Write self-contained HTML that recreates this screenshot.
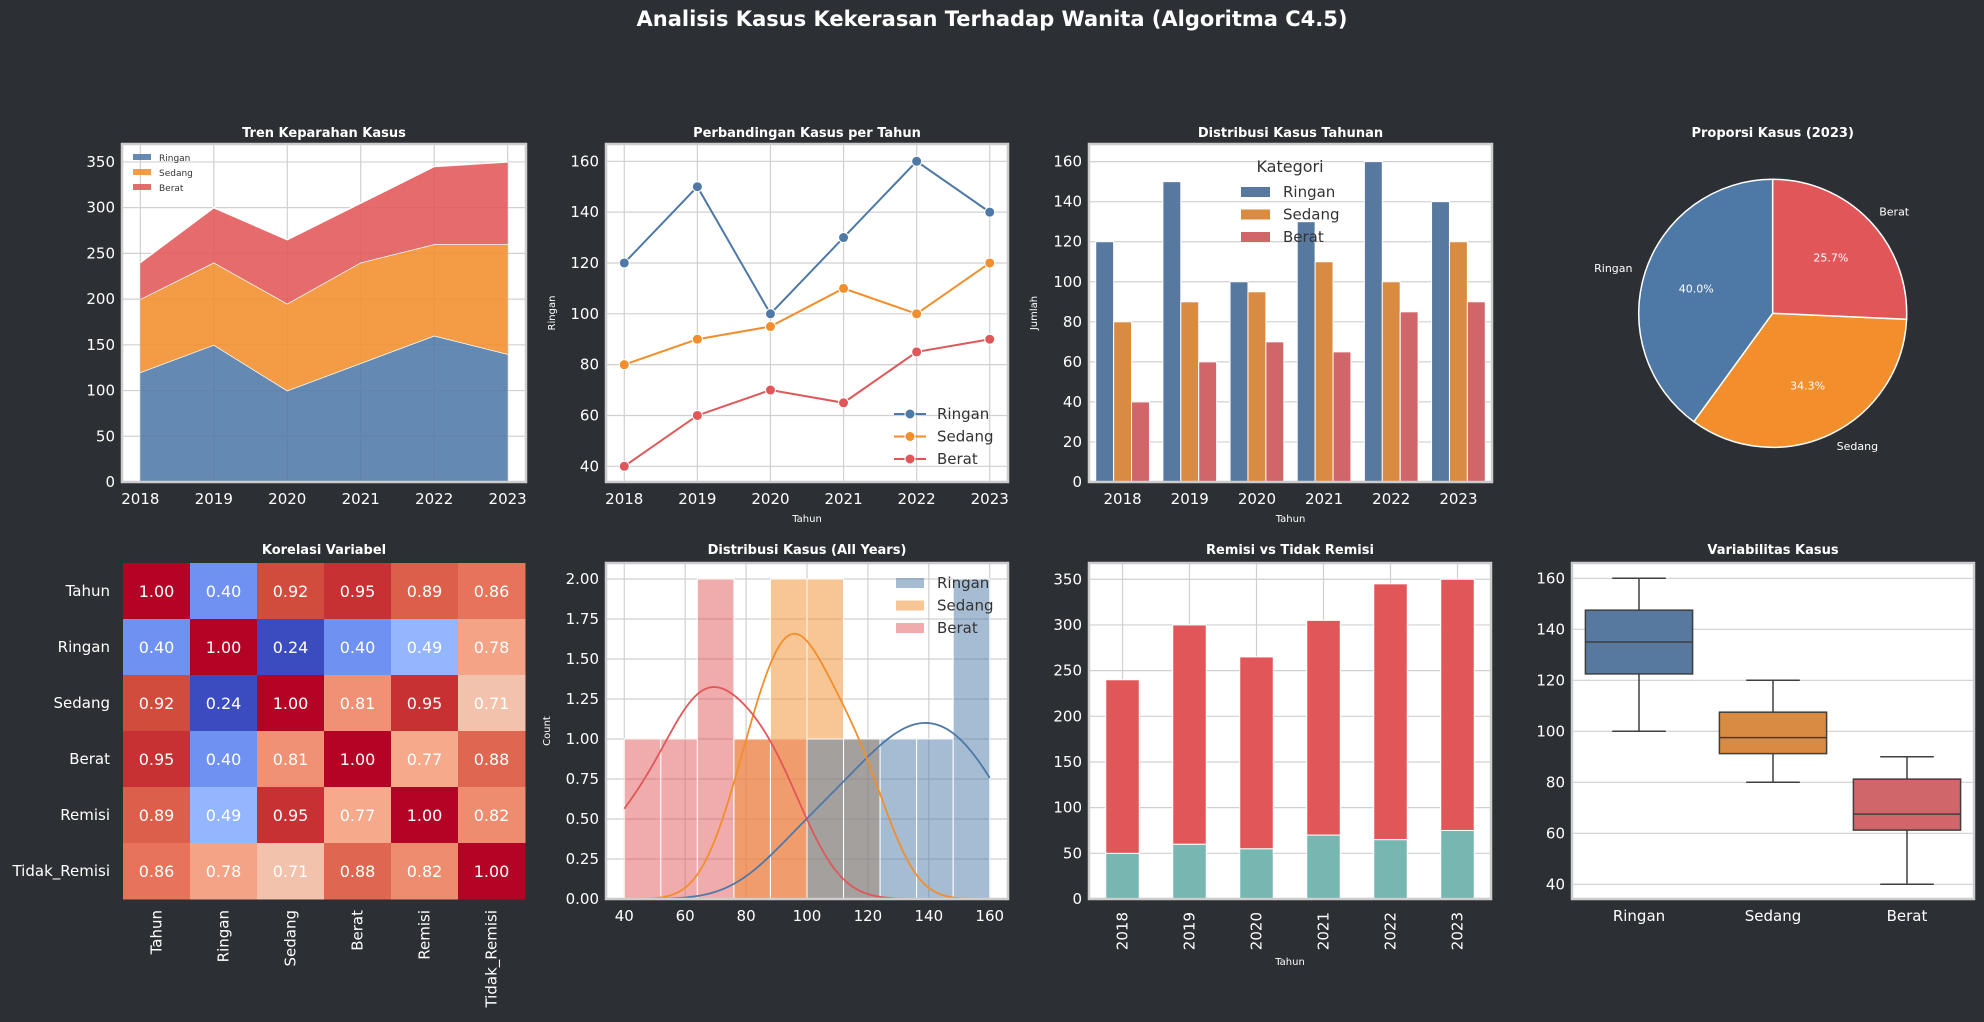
<!DOCTYPE html>
<html><head><meta charset="utf-8">
<style>
html,body{margin:0;padding:0;background:#2c2f33;}
svg{display:block;font-family:"DejaVu Sans","Liberation Sans",sans-serif;}
</style></head>
<body>
<svg id="fig" width="1984" height="1022" viewBox="0 0 1984 1022" xmlns="http://www.w3.org/2000/svg">
<rect width="1984" height="1022" fill="#2c2f33"/>
<text x="992" y="26" text-anchor="middle" fill="#fff" font-size="21" font-weight="bold">Analisis Kasus Kekerasan Terhadap Wanita (Algoritma C4.5)</text>
</svg>
<script>
const years = [2018, 2019, 2020, 2021, 2022, 2023];
const ringan = [120, 150, 100, 130, 160, 140];
const sedang = [80, 90, 95, 110, 100, 120];
const berat = [40, 60, 70, 65, 85, 90];
const remisi = [50, 60, 55, 70, 65, 75];
const tidakRemisi = [190, 240, 210, 235, 280, 275];
const corrLabels = ["Tahun", "Ringan", "Sedang", "Berat", "Remisi", "Tidak_Remisi"];
const corrValues = [
  [1.00, 0.40, 0.92, 0.95, 0.89, 0.86],
  [0.40, 1.00, 0.24, 0.40, 0.49, 0.78],
  [0.92, 0.24, 1.00, 0.81, 0.95, 0.71],
  [0.95, 0.40, 0.81, 1.00, 0.77, 0.88],
  [0.89, 0.49, 0.95, 0.77, 1.00, 0.82],
  [0.86, 0.78, 0.71, 0.88, 0.82, 1.00]
];
const catNames = ["Ringan", "Sedang", "Berat"];
const tick350 = [0, 50, 100, 150, 200, 250, 300, 350];
const tick160a = [40, 60, 80, 100, 120, 140, 160];
const tick160b = [0, 20, 40, 60, 80, 100, 120, 140, 160];
const histYTicks = [0, 0.25, 0.5, 0.75, 1, 1.25, 1.5, 1.75, 2];
const histXTicks = [40, 60, 80, 100, 120, 140, 160];

const svg = document.getElementById('fig');
const NS = 'http://www.w3.org/2000/svg';
function el(tag, attrs, parent, text) {
  const e = document.createElementNS(NS, tag);
  for (const k in attrs) e.setAttribute(k, attrs[k]);
  if (text !== undefined) e.textContent = text;
  (parent || svg).appendChild(e);
  return e;
}
const C = {blue:'#4e79a7', orange:'#f28e2b', red:'#e15759', teal:'#76b7b2',
  bBlue:'#57789f', bOrange:'#da8b42', bRed:'#d0666a', grid:'#d0d0d0', frame:'#cccccc'};
const TXT = '#ffffff';

function lin(d0, d1, r0, r1) { return v => r0 + (v - d0) * (r1 - r0) / (d1 - d0); }

function axesBox(name, x0, y0, x1, y1) {
  const g = el('g', {}, svg);
  
  
  const bg = el('rect', {x:x0, y:y0, width:x1-x0, height:y1-y0, fill:'#fff'}, g);
  
  
  return g;
}
function frame(g, x0, y0, x1, y1) {
  el('rect', {x:x0, y:y0, width:x1-x0, height:y1-y0, fill:'none', stroke:C.frame, 'stroke-width':2.5}, g);
}
function title(text, cx, y, name) {
  const t = el('text', {x:cx, y:y, 'text-anchor':'middle', fill:TXT, 'font-size':13, 'font-weight':'bold'}, svg, text);
  
  
}
function yTicks(g, ticks, sy, x0, x1, fmt, grid) {
  ticks.forEach(v => {
    const y = sy(v);
    if (grid) el('line', {x1:x0, x2:x1, y1:y, y2:y, stroke:C.grid, 'stroke-width':1.2}, g);
    const t = el('text', {x:x0-7, y:y+5, 'text-anchor':'end', fill:TXT, 'font-size':15}, svg, fmt ? fmt(v) : v);
    
    
  });
}
function xTicks(g, ticks, sx, y0, y1, grid, labels) {
  ticks.forEach((v, i) => {
    const x = sx(v, i);
    if (grid) el('line', {x1:x, x2:x, y1:y0, y2:y1, stroke:C.grid, 'stroke-width':1.2}, g);
    const t = el('text', {x:x, y:y1+22, 'text-anchor':'middle', fill:TXT, 'font-size':15}, svg, labels ? labels[i] : v);
    
    
  });
}
function axLabel(text, x, y, rot, name) {
  const t = el('text', {x:x, y:y, 'text-anchor':'middle', fill:TXT, 'font-size':10,
    transform: rot ? `rotate(-90 ${x} ${y})` : ''}, svg, text);
  
  
}

/* ---------- Panel 1: stacked area ---------- */
(function(){
  const x0=122,x1=526,y0=144,y1=482;
  const g = axesBox('area-chart', x0,y0,x1,y1);
  const sx = lin(2017.75, 2023.25, x0, x1);
  const sy = lin(0, 369.6, y1, y0);
  yTicks(g, tick350, sy, x0, x1, null, true);
  xTicks(g, years, sx, y0, y1, true);
  const layers = [ringan, sedang, berat], cols=[C.blue,C.orange,C.red];
  let base = years.map(()=>0);
  layers.forEach((L, li) => {
    const top = base.map((b,i)=>b+L[i]);
    let d = 'M' + years.map((yv,i)=>sx(yv)+','+sy(top[i])).join(' L');
    d += ' L' + years.slice().reverse().map((yv,j)=>{const i=years.length-1-j;return sx(yv)+','+sy(base[i]);}).join(' L') + 'Z';
    const p = el('path', {d:d, fill:cols[li], 'fill-opacity':0.88}, g);
    
    
    el('polyline', {points: years.map((yv,i)=>sx(yv)+','+sy(top[i])).join(' '), fill:'none', stroke:'#fff', 'stroke-width':1.5}, g);
    base = top;
  });
  frame(g,x0,y0,x1,y1);
  title('Tren Keparahan Kasus', (x0+x1)/2, 137, 'area-chart-title');
  catNames.forEach((n,i)=>{
    const y = 158 + i*15;
    const r = el('rect', {x:133, y:y-4, width:18, height:6, fill:cols[i], 'fill-opacity':0.88}, svg);
    
    
    const t = el('text', {x:159, y:y+3, fill:'#333', 'font-size':9}, svg, n);
    
    
  });
})();

/* ---------- Panel 2: line chart ---------- */
(function(){
  const x0=606,x1=1008,y0=144,y1=482;
  const g = axesBox('line-chart', x0,y0,x1,y1);
  const sx = lin(2017.75, 2023.25, x0, x1);
  const sy = lin(40, 160, 466.3, 161.3);
  yTicks(g, tick160a, sy, x0, x1, null, true);
  xTicks(g, years, sx, y0, y1, true);
  const series=[ringan,sedang,berat], cols=[C.blue,C.orange,C.red];
  series.forEach((s,si)=>{
    const pl = el('polyline', {points: years.map((yv,i)=>sx(yv)+','+sy(s[i])).join(' '), fill:'none', stroke:cols[si], 'stroke-width':2}, g);
    
    
    years.forEach((yv,i)=>{
      const c = el('circle', {cx:sx(yv), cy:sy(s[i]), r:5, fill:cols[si], stroke:'#fff', 'stroke-width':1}, g);
      
      
    });
  });
  frame(g,x0,y0,x1,y1);
  title('Perbandingan Kasus per Tahun', (x0+x1)/2, 137, 'line-chart-title');
  axLabel('Tahun', (x0+x1)/2, 522, false, 'line-x-axis-title');
  axLabel('Ringan', 555, 313, true, 'line-y-axis-title');
  catNames.forEach((n,i)=>{
    const y = 414 + i*22.5;
    el('line', {x1:894, x2:926, y1:y, y2:y, stroke:cols[i], 'stroke-width':2}, svg);
    el('circle', {cx:910, cy:y, r:5, fill:cols[i], stroke:'#fff', 'stroke-width':1}, svg);
    const t = el('text', {x:937, y:y+5, fill:'#333', 'font-size':15}, svg, n);
    
    
  });
})();

/* ---------- Panel 3: grouped bar ---------- */
(function(){
  const x0=1089,x1=1492,y0=144,y1=482;
  const g = axesBox('grouped-bar-chart', x0,y0,x1,y1);
  const step=(x1-x0)/years.length;
  const sy = lin(0, 168.8, y1, y0);
  yTicks(g, tick160b, sy, x0, x1, null, true);
  xTicks(g, years, (v,i)=>x0+step*(i+0.5), y0, y1, false);
  const series=[ringan,sedang,berat], cols=[C.bBlue,C.bOrange,C.bRed];
  const bw = step*0.8/3;
  series.forEach((s,si)=>{
    s.forEach((v,i)=>{
      const cx = x0+step*(i+0.5) + (si-1)*bw;
      const r = el('rect', {x:cx-bw/2, y:sy(v), width:bw, height:sy(0)-sy(v), fill:cols[si], stroke:'#fff', 'stroke-width':1}, g);
      
      
    });
  });
  frame(g,x0,y0,x1,y1);
  title('Distribusi Kasus Tahunan', (x0+x1)/2, 137, 'grouped-bar-title');
  axLabel('Tahun', (x0+x1)/2, 522, false, 'bar-x-axis-title');
  axLabel('Jumlah', 1037, 313, true, 'bar-y-axis-title');
  const lt = el('text', {x:1290, y:172, 'text-anchor':'middle', fill:'#333', 'font-size':16}, svg, 'Kategori');
  
  
  catNames.forEach((n,i)=>{
    const y = 192 + i*22.5;
    el('rect', {x:1241, y:y-5, width:29, height:10, fill:cols[i]}, svg);
    const t = el('text', {x:1283, y:y+5, fill:'#333', 'font-size':15}, svg, n);
    
    
  });
})();

/* ---------- Panel 4: pie ---------- */
(function(){
  const cx=1772.7, cy=313.3, R=134;
  const vals=[ringan[5], sedang[5], berat[5]];
  const tot = vals.reduce((a,b)=>a+b,0);
  const cols=[C.blue,C.orange,C.red];
  let ang = 90;
  vals.forEach((v,i)=>{
    const sweep = v/tot*360;
    const a0 = ang*Math.PI/180, a1=(ang+sweep)*Math.PI/180;
    const p0=[cx+R*Math.cos(a0), cy-R*Math.sin(a0)], p1=[cx+R*Math.cos(a1), cy-R*Math.sin(a1)];
    const large = sweep>180?1:0;
    const p = el('path', {d:`M${cx},${cy} L${p0[0]},${p0[1]} A${R},${R} 0 ${large} 0 ${p1[0]},${p1[1]} Z`, fill:cols[i], stroke:'#fff', 'stroke-width':1.5}, svg);
    
    
    const am = (ang+sweep/2)*Math.PI/180;
    const lx = cx+1.1*R*Math.cos(am), ly = cy-1.1*R*Math.sin(am);
    const t = el('text', {x:lx, y:ly+4, 'text-anchor': Math.cos(am)<0?'end':'start', fill:TXT, 'font-size':11}, svg, catNames[i]);
    
    
    const px = cx+0.6*R*Math.cos(am), py = cy-0.6*R*Math.sin(am);
    const t2 = el('text', {x:px, y:py+4, 'text-anchor':'middle', fill:TXT, 'font-size':11}, svg, (v/tot*100).toFixed(1)+'%');
    
    
    ang += sweep;
  });
  title('Proporsi Kasus (2023)', 1772.7, 137, 'pie-title');
})();

/* ---------- Panel 5: heatmap ---------- */
(function(){
  const x0=123,x1=525,y0=563,y1=899;
  const n=corrLabels.length, cw=(x1-x0)/n, ch=(y1-y0)/n;
  const stops=[[0,[59,76,192]],[0.1,[83,110,221]],[0.2,[108,143,241]],[0.3,[137,175,254]],[0.4,[170,199,253]],[0.5,[221,220,220]],[0.6,[242,200,180]],[0.7,[246,168,138]],[0.8,[234,123,96]],[0.9,[209,73,60]],[1,[180,4,38]]];
  let mn=Infinity,mx=-Infinity;
  corrValues.forEach(r=>r.forEach(v=>{mn=Math.min(mn,v);mx=Math.max(mx,v);}));
  function cmap(v){
    const t=(v-mn)/(mx-mn);
    for(let k=1;k<stops.length;k++){
      if(t<=stops[k][0]){
        const a=stops[k-1],b=stops[k],f=(t-a[0])/(b[0]-a[0]);
        const c=a[1].map((c0,j)=>Math.round(c0+(b[1][j]-c0)*f));
        return `rgb(${c.join(',')})`;
      }
    }
    return 'rgb(180,4,38)';
  }
  const g = el('g', {}, svg);
  
  
  corrValues.forEach((row,r)=>row.forEach((v,c)=>{
    const rc = el('rect', {x:x0+c*cw, y:y0+r*ch, width:cw+0.5, height:ch+0.5, fill:cmap(v)}, g);
    
    
    const t = el('text', {x:x0+(c+0.5)*cw, y:y0+(r+0.5)*ch+6, 'text-anchor':'middle', fill:'#fff', 'font-size':16}, g, v.toFixed(2));
    
    
  }));
  corrLabels.forEach((l,i)=>{
    const t = el('text', {x:110, y:y0+(i+0.5)*ch+5, 'text-anchor':'end', fill:TXT, 'font-size':15}, svg, l);
    
    
    const xx = x0+(i+0.5)*cw+5, yy = 910;
    const t2 = el('text', {x:xx, y:yy, 'text-anchor':'end', fill:TXT, 'font-size':15, transform:`rotate(-90 ${xx} ${yy})`}, svg, l);
    
    
  });
  title('Korelasi Variabel', (x0+x1)/2, 554, 'heatmap-title');
})();

/* ---------- Panel 6: histogram + KDE ---------- */
(function(){
  const x0=606,x1=1008,y0=563,y1=899;
  const g = axesBox('histogram-chart', x0,y0,x1,y1);
  const sx = lin(34, 166, x0, x1);
  const sy = lin(0, 2.1, y1, y0);
  yTicks(g, histYTicks, sy, x0, x1, v=>v.toFixed(2), true);
  xTicks(g, histXTicks, sx, y0, y1, true);
  const all = ringan.concat(sedang, berat);
  const lo = Math.min(...all), hi = Math.max(...all), nb = 10, bwid = (hi-lo)/nb;
  const series=[ringan,sedang,berat], cols=[C.blue,C.orange,C.red];
  [2,1,0].forEach(si=>{
    const counts = new Array(nb).fill(0);
    series[si].forEach(v=>{ let k=Math.floor((v-lo)/bwid); if(k>=nb)k=nb-1; counts[k]++; });
    counts.forEach((c,k)=>{
      if(!c) return;
      const r = el('rect', {x:sx(lo+k*bwid), y:sy(c), width:sx(lo+(k+1)*bwid)-sx(lo+k*bwid), height:sy(0)-sy(c), fill:cols[si], 'fill-opacity':0.5, stroke:'#fff', 'stroke-width':1}, g);
      
      
    });
  });
  series.forEach((s,si)=>{
    const n=s.length, m=s.reduce((a,b)=>a+b,0)/n;
    const sd=Math.sqrt(s.reduce((a,b)=>a+(b-m)*(b-m),0)/(n-1));
    const bw = sd*Math.pow(n,-0.2);
    const pts=[];
    for(let x=lo;x<=hi+0.001;x+=1){
      let d=0; s.forEach(v=>{d+=Math.exp(-0.5*((x-v)/bw)**2);});
      d = d/(n*bw*Math.sqrt(2*Math.PI));
      pts.push(sx(x)+','+sy(d*n*bwid));
    }
    const pl = el('polyline', {points:pts.join(' '), fill:'none', stroke:cols[si], 'stroke-width':1.8}, g);
    
    
  });
  frame(g,x0,y0,x1,y1);
  title('Distribusi Kasus (All Years)', (x0+x1)/2, 554, 'histogram-title');
  axLabel('Count', 550, 731, true, 'hist-y-axis-title');
  catNames.forEach((n,i)=>{
    const y = 583 + i*22.5;
    el('rect', {x:896, y:y-5, width:28, height:10, fill:cols[i], 'fill-opacity':0.5}, svg);
    const t = el('text', {x:937, y:y+5, fill:'#333', 'font-size':15}, svg, n);
    
    
  });
})();

/* ---------- Panel 7: stacked bar remisi ---------- */
(function(){
  const x0=1089,x1=1491,y0=563,y1=899;
  const g = axesBox('remisi-bar-chart', x0,y0,x1,y1);
  const step=(x1-x0)/years.length;
  const sy = lin(0, 367.8, y1, y0);
  yTicks(g, tick350, sy, x0, x1, null, true);
  years.forEach((yv,i)=>{
    const x=x0+step*(i+0.5);
    el('line', {x1:x, x2:x, y1:y0, y2:y1, stroke:C.grid, 'stroke-width':1.2}, g);
    const t = el('text', {x:x+5, y:912, 'text-anchor':'end', fill:TXT, 'font-size':15, transform:`rotate(-90 ${x+5} 912)`}, svg, yv);
    
    
  });
  const bw=step*0.5;
  years.forEach((yv,i)=>{
    const x=x0+step*(i+0.5)-bw/2;
    const a = el('rect', {x:x, y:sy(remisi[i]), width:bw, height:sy(0)-sy(remisi[i]), fill:C.teal, stroke:'#fff', 'stroke-width':1}, g);
    
    
    const top = remisi[i]+tidakRemisi[i];
    const b = el('rect', {x:x, y:sy(top), width:bw, height:sy(remisi[i])-sy(top), fill:C.red, stroke:'#fff', 'stroke-width':1}, g);
    
    
  });
  frame(g,x0,y0,x1,y1);
  title('Remisi vs Tidak Remisi', (x0+x1)/2, 554, 'remisi-title');
  axLabel('Tahun', (x0+x1)/2, 965, false, 'remisi-x-axis-title');
})();

/* ---------- Panel 8: boxplot ---------- */
(function(){
  const x0=1572,x1=1974,y0=563,y1=899;
  const g = axesBox('boxplot-chart', x0,y0,x1,y1);
  const sy = lin(40, 160, 884.3, 578.3);
  yTicks(g, tick160a, sy, x0, x1, null, true);
  const step=(x1-x0)/3;
  xTicks(g, catNames, (v,i)=>x0+step*(i+0.5), y0, y1, false);
  const series=[ringan,sedang,berat], cols=[C.bBlue,C.bOrange,C.bRed];
  function q(s,p){const a=s.slice().sort((x,y)=>x-y);const pos=(a.length-1)*p;const f=Math.floor(pos);return a[f]+(a[Math.min(f+1,a.length-1)]-a[f])*(pos-f);}
  series.forEach((s,i)=>{
    const q1=q(s,0.25), md=q(s,0.5), q3=q(s,0.75), iqr=q3-q1;
    const lo=Math.min(...s.filter(v=>v>=q1-1.5*iqr)), hi=Math.max(...s.filter(v=>v<=q3+1.5*iqr));
    const cx=x0+step*(i+0.5), bw=step*0.8;
    const st={stroke:'#3f3f3f','stroke-width':1.5};
    el('line', Object.assign({x1:cx,x2:cx,y1:sy(hi),y2:sy(q3)},st), g);
    el('line', Object.assign({x1:cx,x2:cx,y1:sy(q1),y2:sy(lo)},st), g);
    el('line', Object.assign({x1:cx-bw/4,x2:cx+bw/4,y1:sy(hi),y2:sy(hi)},st), g);
    el('line', Object.assign({x1:cx-bw/4,x2:cx+bw/4,y1:sy(lo),y2:sy(lo)},st), g);
    const b = el('rect', Object.assign({x:cx-bw/2,y:sy(q3),width:bw,height:sy(q1)-sy(q3),fill:cols[i]},st), g);
    
    
    el('line', Object.assign({x1:cx-bw/2,x2:cx+bw/2,y1:sy(md),y2:sy(md)},st), g);
  });
  frame(g,x0,y0,x1,y1);
  title('Variabilitas Kasus', (x0+x1)/2, 554, 'boxplot-title');
})();
</script>
</body></html>
